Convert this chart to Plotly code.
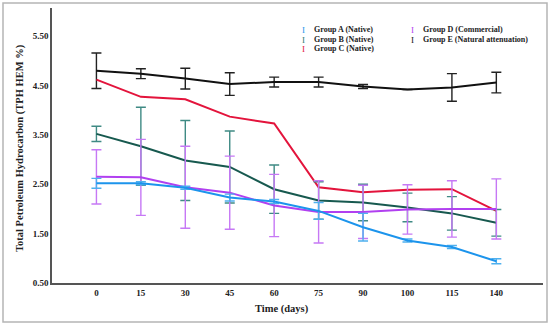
import plotly.graph_objects as go

days = ["0", "15", "30", "45", "60", "75", "90", "100", "115", "140"]

group_names = ["Group A (Native)", "Group B (Native)", "Group C (Native)",
               "Group D (Commercial)", "Group E (Natural attenuation)"]

group_a = [2.52, 2.52, 2.43, 2.23, 2.15, 1.96, 1.63, 1.36, 1.23, 0.94]
group_a_err = [0.10, 0.03, 0.03, 0.07, 0.04, 0.17, 0.28, 0.03, 0.03, 0.05]

group_b = [3.52, 3.27, 2.98, 2.85, 2.40, 2.17, 2.13, 2.03, 1.91, 1.72]
group_b_err = [0.155, 0.79, 0.81, 0.73, 0.49, 0.38, 0.37, 0.29, 0.34, 0.27]

group_c = [4.62, 4.27, 4.22, 3.87, 3.73, 2.44, 2.34, 2.39, 2.40, 1.96]
group_c_err = [0, 0, 0, 0, 0, 0, 0, 0, 0, 0]

group_d = [2.65, 2.64, 2.44, 2.33, 2.07, 1.94, 1.94, 1.99, 2.00, 2.00]
group_d_err = [0.55, 0.77, 0.83, 0.74, 0.63, 0.63, 0.54, 0.50, 0.57, 0.61]

group_e = [4.80, 4.74, 4.64, 4.53, 4.57, 4.57, 4.48, 4.42, 4.46, 4.56]
group_e_err = [0.36, 0.10, 0.21, 0.23, 0.10, 0.10, 0.04, 0.0, 0.28, 0.21]

y_ticks = [0.5, 1.5, 2.5, 3.5, 4.5, 5.5]

series = [group_a, group_b, group_c, group_d, group_e]
errors = [group_a_err, group_b_err, group_c_err, group_d_err, group_e_err]
line_colors = ["#1c94ec", "#17594f", "#e3143c", "#b140f0", "#111111"]
err_colors = ["#4fb0ee", "#3f8a84", "#d8284c", "#c678f5", "#222222"]
show_err = [True, True, False, True, True]

SERIF = "Liberation Serif, Times New Roman, serif"

fig = go.Figure()
draw_order = [4, 2, 1, 3, 0]
for i in draw_order:
    fig.add_trace(go.Scatter(
        x=days, y=series[i], mode="lines", name=group_names[i],
        line=dict(color=line_colors[i], width=2),
        error_y=dict(type="data", array=errors[i], visible=show_err[i],
                     color=err_colors[i], thickness=1.4, width=5),
        showlegend=False,
    ))

# plot area in pixels
L, R, T, B = 52, 543, 8, 283


def px(x):
    return (x - L) / (R - L)


def py(y):
    return (B - y) / (B - T)


ann = []
legend_pos = [(303, 30), (303, 40), (303, 49), (412, 30), (412, 40)]
legend_marker_colors = ["#1c94ec", "#2f7d74", "#e3143c", "#b140f0", "#111111"]
for i, (lx, ly) in enumerate(legend_pos):
    ann.append(dict(x=px(lx), y=py(ly), xref="paper", yref="paper",
                    text="I", showarrow=False, xanchor="center", yanchor="middle",
                    font=dict(family=SERIF, size=9, color=legend_marker_colors[i])))
    ann.append(dict(x=px(lx + 9), y=py(ly), xref="paper", yref="paper",
                    text=group_names[i], showarrow=False, xanchor="left", yanchor="middle",
                    font=dict(family=SERIF, size=8, color="#222", weight="bold")))

ann.append(dict(x=px(20), y=py(148), xref="paper", yref="paper",
                text="Total Petroleum Hydrocarbon (TPH HEM %)", textangle=-90,
                showarrow=False, xanchor="center", yanchor="middle",
                font=dict(family=SERIF, size=10.5, color="#222", weight="bold")))
ann.append(dict(x=px(282), y=py(309), xref="paper", yref="paper",
                text="Time (days)", showarrow=False, xanchor="center", yanchor="middle",
                font=dict(family=SERIF, size=10.5, color="#222", weight="bold")))

fig.update_layout(
    width=550, height=325,
    margin=dict(l=L, r=550 - R, t=T, b=325 - B),
    paper_bgcolor="white", plot_bgcolor="white",
    annotations=ann,
    shapes=[dict(type="rect", xref="paper", yref="paper",
                 x0=px(3), x1=px(547), y0=py(322), y1=py(3),
                 line=dict(color="#b5b5b5", width=1.5), layer="below")],
    xaxis=dict(type="category", range=[-1.0, 10.05], showgrid=False, zeroline=False,
               showline=True, linecolor="#555", linewidth=1.5, ticks="",
               tickfont=dict(family=SERIF, size=9, color="#222", weight="bold")),
    yaxis=dict(range=[0.5, 6.07], tickvals=y_ticks, tickformat=".2f", showgrid=False,
               zeroline=False, showline=True, linecolor="#555", linewidth=1.5, ticks="",
               tickfont=dict(family=SERIF, size=9, color="#222", weight="bold")),
)

fig.write_html("out.html", config={"displayModeBar": False},
               post_script="document.body.style.margin='0px';")
